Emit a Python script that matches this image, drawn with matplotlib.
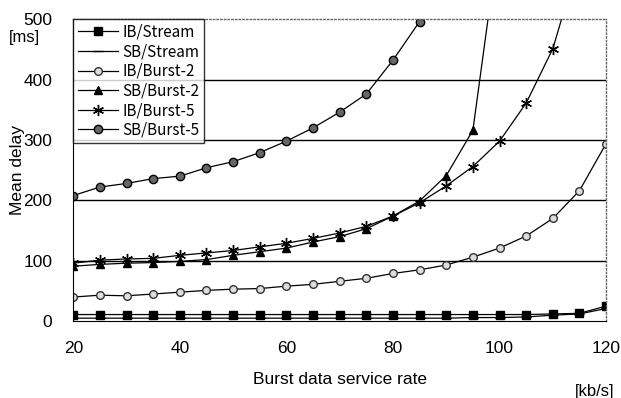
import matplotlib.pyplot as plt
import numpy as np

# burst data service rate [kb/s]
rate = [20, 25, 30, 35, 40, 45, 50, 55, 60, 65, 70, 75, 80, 85, 90, 95, 100, 105, 110, 115, 120]

# mean delay [ms]
ib_stream = [11, 11, 11, 11, 11, 11, 11, 11, 11, 11, 11, 11, 11, 11, 11, 11, 11, 11, 12, 13, 25]
sb_stream = [5, 5, 5, 5, 5, 5, 5, 5, 5, 5, 5, 5, 5, 5, 5, 6, 6, 7, 10, 12, 21]
ib_burst2 = [40, 43, 42, 45, 48, 51, 53, 54, 58, 61, 66, 71, 79, 85, 93, 106, 121, 141, 170, 216, 294]
sb_burst2 = [91, 94, 96, 97, 99, 102, 109, 115, 121, 131, 140, 153, 174, 199, 241, 316, 640]
ib_burst5 = [96, 101, 103, 104, 109, 113, 117, 123, 129, 137, 146, 157, 174, 196, 224, 256, 298, 361, 451, 600]
sb_burst5 = [208, 222, 228, 236, 240, 254, 264, 279, 298, 320, 346, 376, 432, 496, 600]

labels = ["IB/Stream", "SB/Stream", "IB/Burst-2", "SB/Burst-2", "IB/Burst-5", "SB/Burst-5"]

fig = plt.figure(figsize=(6.21, 3.98), dpi=100)
ax = fig.add_axes([0.118, 0.193, 0.858, 0.759])

lw = 0.9
ax.plot(rate, ib_stream, color="black", lw=lw, marker="s", ms=6, mfc="black", mec="black", label=labels[0])
ax.plot(rate, sb_stream, color="black", lw=lw, marker="_", ms=7, mec="black", label=labels[1])
ax.plot(rate, ib_burst2, color="black", lw=lw, marker="o", ms=5.5, mfc="#dddddd", mec="#333333", label=labels[2])
ax.plot(rate[:len(sb_burst2)], sb_burst2, color="black", lw=lw, marker="^", ms=6, mfc="black", mec="black", label=labels[3])
ax.plot(rate[:len(ib_burst5)], ib_burst5, color="black", lw=lw, marker=(6, 2, 0), ms=8, mec="black", mew=1.0, label=labels[4])
ax.plot(rate[:len(sb_burst5)], sb_burst5, color="black", lw=lw, marker="o", ms=6, mfc="#666666", mec="black", label=labels[5])

ax.set_xlim(20, 120)
ax.set_ylim(0, 500)
ax.set_xticks(np.arange(20, 121, 20))
ax.set_yticks(np.arange(0, 501, 100))
ax.tick_params(length=0, labelsize=12.5)
ax.tick_params(axis="x", pad=14)
ax.tick_params(axis="y", pad=15)
for t in ax.get_xticklabels() + ax.get_yticklabels():
    t.set_fontfamily("Liberation Sans")

for y in [100, 200, 300, 400]:
    ax.axhline(y, color="black", lw=1.0, zorder=0)

ax.spines["left"].set_color("black")
ax.spines["bottom"].set_color("black")
for s in ["top", "right"]:
    ax.spines[s].set_color("#666666")
    ax.spines[s].set_linestyle(":")
    ax.spines[s].set_linewidth(1.0)

ax.set_ylabel("Mean delay", fontsize=12.5, fontfamily="Liberation Sans")
ax.yaxis.set_label_coords(-0.09, 0.5)
ax.set_xlabel("Burst data service rate", fontsize=12.5, fontfamily="Liberation Sans", labelpad=12)
fig.text(0.015, 0.895, "[ms]", fontsize=12, fontfamily="Liberation Sans")
fig.text(0.99, 0.005, "[kb/s]", fontsize=12, fontfamily="Liberation Sans", ha="right")

leg = ax.legend(loc="upper left", bbox_to_anchor=(0, 1), frameon=True, fancybox=False,
                edgecolor="black", handlelength=2.6, borderpad=0.3, labelspacing=0.17,
                handletextpad=0.3, borderaxespad=0,
                prop={"family": ["Noto Sans CJK JP", "DejaVu Sans"], "size": 11})
leg.get_frame().set_linewidth(1.0)

fig.savefig("out.png", dpi=100, facecolor="white")
